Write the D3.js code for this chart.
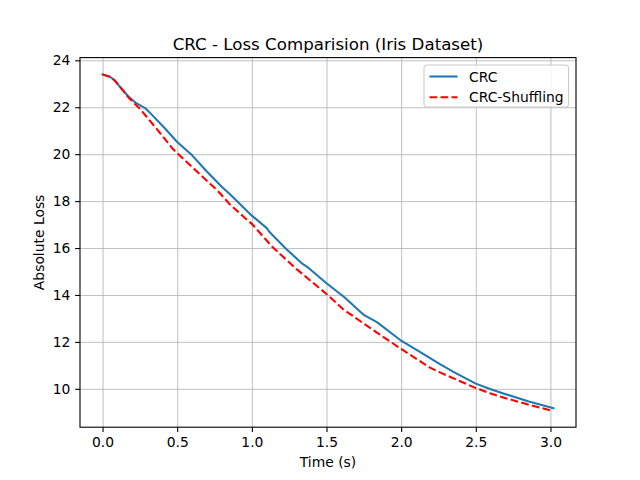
<!DOCTYPE html>
<html>
<head>
<meta charset="utf-8">
<script src="https://cdn.jsdelivr.net/npm/d3@7"></script>
<style>
  body { margin: 0; background: #fff; }
  svg { font-family: "DejaVu Sans", sans-serif; }
  .grid line { stroke: #b0b0b0; stroke-width: 0.8px; }
  .grid path { display: none; }
</style>
</head>
<body>
<div id="chart"></div>
<script>
var title = "CRC - Loss Comparision (Iris Dataset)";
var xLabel = "Time (s)";
var yLabel = "Absolute Loss";
var seriesNames = ["CRC", "CRC-Shuffling"];

// CRC
var crcTime = [0, 0.05, 0.08, 0.12, 0.17, 0.22, 0.29, 0.32, 0.42, 0.5, 0.6, 0.7, 0.8, 0.85, 1.0, 1.1, 1.12, 1.23, 1.34, 1.38, 1.5, 1.62, 1.75, 1.84, 2.0, 2.15, 2.26, 2.35, 2.5, 2.6, 2.7, 2.85, 3.02];
var crcLoss = [23.4, 23.3, 23.15, 22.85, 22.48, 22.2, 21.94, 21.75, 21.08, 20.52, 19.95, 19.25, 18.6, 18.31, 17.38, 16.85, 16.67, 15.96, 15.32, 15.15, 14.5, 13.9, 13.15, 12.83, 12.05, 11.48, 11.05, 10.72, 10.22, 9.98, 9.77, 9.47, 9.17];

// CRC-Shuffling
var shufTime = [0, 0.05, 0.08, 0.12, 0.18, 0.25, 0.36, 0.47, 0.6, 0.7, 0.78, 0.85, 0.95, 1.0, 1.14, 1.3, 1.5, 1.61, 1.77, 1.85, 2.0, 2.19, 2.26, 2.5, 2.6, 2.7, 2.85, 3.0];
var shufLoss = [23.4, 23.3, 23.15, 22.85, 22.37, 21.94, 21.1, 20.23, 19.45, 18.86, 18.38, 17.88, 17.3, 17.03, 16.03, 15.1, 14.04, 13.4, 12.69, 12.34, 11.7, 10.91, 10.7, 10.03, 9.8, 9.6, 9.33, 9.08];

var xTicks = [0.0, 0.5, 1.0, 1.5, 2.0, 2.5, 3.0];
var yTicks = [10, 12, 14, 16, 18, 20, 22, 24];

var W = 640, H = 480;
var m = {left: 80, right: 64, top: 57.6, bottom: 52.8};
var iw = W - m.left - m.right, ih = H - m.top - m.bottom;

function pad(ext) {
  var s = ext[1] - ext[0];
  return [ext[0] - 0.05 * s, ext[1] + 0.05 * s];
}

var allT = crcTime.concat(shufTime), allL = crcLoss.concat(shufLoss);
var x = d3.scaleLinear().domain(pad(d3.extent(allT))).range([0, iw]);
var y = d3.scaleLinear().domain(pad(d3.extent(allL))).range([ih, 0]);

var svg = d3.select("#chart").append("svg")
  .attr("width", W)
  .attr("height", H);

var g = svg.append("g").attr("transform", "translate(" + m.left + "," + m.top + ")");

// grid
g.append("g").classed("grid", true)
  .attr("transform", "translate(0," + ih + ")")
  .call(d3.axisBottom(x).tickValues(xTicks).tickSize(-ih).tickFormat(""));
g.append("g").classed("grid", true)
  .call(d3.axisLeft(y).tickValues(yTicks).tickSize(-iw).tickFormat(""));

// lines
var line = d3.line()
  .x(function(d){ return x(d[0]); })
  .y(function(d){ return y(d[1]); });

var crc = crcTime.map(function(t, i){ return [t, crcLoss[i]]; });
var shuf = shufTime.map(function(t, i){ return [t, shufLoss[i]]; });

g.append("path")
  .datum(crc)
  .attr("d", line)
  .attr("fill", "none")
  .attr("stroke", "#1f77b4")
  .attr("stroke-width", 2.08)
  .attr("stroke-linejoin", "round")
  .attr("stroke-linecap", "square");

g.append("path")
  .datum(shuf)
  .attr("d", line)
  .attr("fill", "none")
  .attr("stroke", "#ff0000")
  .attr("stroke-width", 2.08)
  .attr("stroke-dasharray", "7.7,3.33");

// axes
var xAxis = g.append("g")
  .attr("transform", "translate(0," + ih + ")")
  .call(d3.axisBottom(x).tickValues(xTicks).tickSize(4.86).tickPadding(4.86).tickFormat(d3.format(".1f")));
var yAxis = g.append("g")
  .call(d3.axisLeft(y).tickValues(yTicks).tickSize(4.86).tickPadding(4.86).tickFormat(d3.format("d")));

[xAxis, yAxis].forEach(function(a){
  a.select(".domain").remove();
  a.selectAll("line").attr("stroke", "#000").attr("stroke-width", 1.1);
  a.selectAll("text").attr("font-size", "13.89px").attr("fill", "#000")
    .attr("font-family", "DejaVu Sans, sans-serif");
});

// frame
g.append("rect")
  .attr("width", iw)
  .attr("height", ih)
  .attr("fill", "none")
  .attr("stroke", "#000")
  .attr("stroke-width", 1.1);

// title and labels
svg.append("text")
  .attr("x", m.left + iw / 2)
  .attr("y", 50)
  .attr("text-anchor", "middle")
  .attr("font-size", "16.67px")
  .text(title);

svg.append("text")
  .attr("x", m.left + iw / 2)
  .attr("y", 467)
  .attr("text-anchor", "middle")
  .attr("font-size", "13.89px")
  .text(xLabel);

svg.append("text")
  .attr("transform", "translate(44," + (m.top + ih / 2) + ") rotate(-90)")
  .attr("text-anchor", "middle")
  .attr("font-size", "13.89px")
  .text(yLabel);

// legend
var leg = svg.append("g").attr("transform", "translate(424,65)");
leg.append("rect")
  .attr("width", 144.5)
  .attr("height", 42)
  .attr("rx", 2.8)
  .attr("fill", "#fff")
  .attr("fill-opacity", 0.8)
  .attr("stroke", "#cccccc")
  .attr("stroke-width", 1.1);

var styles = [
  {color: "#1f77b4", dash: null},
  {color: "#ff0000", dash: "7.7,3.33"}
];

seriesNames.forEach(function(name, i){
  var yy = 11.5 + i * 20.8;
  leg.append("line")
    .attr("x1", 5.5).attr("x2", 33.5)
    .attr("y1", yy).attr("y2", yy)
    .attr("stroke", styles[i].color)
    .attr("stroke-width", 2.08)
    .attr("stroke-dasharray", styles[i].dash);
  leg.append("text")
    .attr("x", 45)
    .attr("y", yy + 5)
    .attr("font-size", "13.89px")
    .text(name);
});
</script>
</body>
</html>
